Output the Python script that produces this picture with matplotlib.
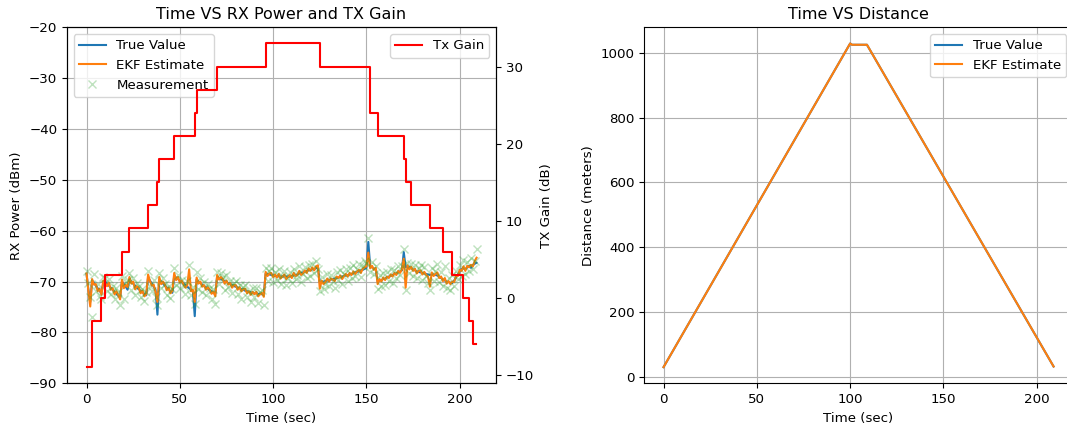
import numpy as np
import matplotlib
matplotlib.use("Agg")
import matplotlib.pyplot as plt

# ---------------- data ----------------
time_sec = list(range(210))

rx_true = [
    -68.5, -71.5, -74.0, -69.8, -70.2, -70.8, -71.3, -71.8, -72.3, -70.2,
    -70.0, -70.4, -70.8, -71.2, -71.6, -72.0, -72.4, -72.8, -73.2, -70.0,
    -70.5, -71.0, -71.6, -69.6, -70.0, -70.4, -70.8, -71.2, -71.5, -71.8,
    -72.1, -72.4, -72.7, -69.2, -69.8, -70.4, -71.0, -71.6, -76.5, -69.6,
    -70.0, -70.4, -70.8, -71.2, -71.5, -71.9, -72.2, -68.9, -69.2, -69.5,
    -69.8, -70.1, -70.4, -70.7, -71.0, -71.3, -71.6, -71.9, -76.8, -69.6,
    -70.0, -70.3, -70.6, -70.9, -71.1, -71.4, -71.7, -71.9, -72.2, -72.5,
    -69.0, -69.3, -69.5, -69.7, -69.9, -70.1, -70.3, -70.5, -70.7, -70.9,
    -71.0, -71.2, -71.3, -71.5, -71.6, -71.8, -71.9, -72.0, -72.1, -72.2,
    -72.3, -72.3, -72.4, -72.4, -72.5, -72.5, -68.4, -68.5, -68.6, -68.7,
    -68.8, -68.9, -68.9, -69.0, -69.0, -69.0, -69.0, -69.0, -69.0, -69.0,
    -68.9, -68.8, -68.7, -68.6, -68.4, -68.3, -68.2, -68.0, -67.9, -67.8,
    -67.7, -67.6, -67.5, -67.4, -67.2, -70.2, -70.1, -70.0, -69.9, -69.8,
    -69.7, -69.6, -69.5, -69.4, -69.3, -69.2, -69.1, -69.0, -68.9, -68.8,
    -68.7, -68.6, -68.5, -68.4, -68.2, -68.1, -68.0, -67.8, -67.7, -67.5,
    -67.3, -62.2, -67.0, -67.2, -67.4, -67.6, -70.0, -69.8, -69.7, -69.5,
    -69.4, -69.2, -69.0, -68.9, -68.7, -68.5, -68.4, -68.2, -68.0, -67.8,
    -64.2, -67.2, -67.0, -67.2, -67.4, -67.6, -67.8, -68.0, -68.1, -68.2,
    -68.3, -68.4, -68.5, -68.6, -68.7, -68.6, -68.6, -68.7, -68.8, -69.0,
    -69.3, -69.6, -69.8, -70.0, -70.1, -70.2, -70.3, -69.8, -69.2, -68.6,
    -68.0, -67.5, -67.4, -67.6, -67.2, -66.9, -67.3, -66.8, -66.5, -66.3,
]

rx_ekf = [
    -68.4, -71.8, -74.9, -69.5, -70.6, -70.5, -71.9, -71.4, -72.6, -69.8,
    -70.3, -70.9, -70.2, -71.6, -71.3, -72.5, -71.9, -72.6, -73.5, -69.6,
    -71.3, -70.6, -71.1, -69.1, -70.4, -70.0, -71.5, -70.9, -71.2, -72.3,
    -71.8, -72.9, -72.5, -68.6, -69.9, -70.8, -70.6, -72.1, -74.0, -69.1,
    -70.5, -70.0, -70.6, -71.7, -71.2, -72.3, -71.8, -68.3, -69.7, -69.1,
    -70.2, -69.8, -70.6, -71.2, -70.7, -67.6, -71.9, -71.6, -74.0, -69.2,
    -70.4, -70.0, -71.0, -70.7, -71.6, -71.1, -71.6, -72.4, -72.0, -72.9,
    -68.7, -69.6, -69.1, -69.5, -70.4, -69.8, -70.6, -70.3, -71.2, -70.7,
    -70.7, -71.6, -71.1, -71.9, -71.5, -71.4, -72.3, -71.9, -72.6, -72.0,
    -72.5, -72.0, -72.9, -72.5, -72.2, -73.0, -68.1, -68.9, -68.4, -68.3,
    -69.1, -68.6, -69.2, -68.5, -69.4, -69.0, -68.6, -69.5, -69.1, -68.7,
    -69.3, -68.3, -68.9, -68.7, -67.9, -68.7, -68.4, -67.8, -68.3, -67.4,
    -67.9, -67.2, -67.8, -67.0, -66.8, -71.4, -69.8, -70.5, -70.1, -69.4,
    -70.0, -69.4, -69.6, -69.9, -69.0, -69.3, -68.8, -69.5, -68.9, -68.5,
    -69.0, -68.3, -68.7, -68.0, -68.5, -68.0, -67.7, -68.3, -67.5, -67.2,
    -67.0, -64.3, -67.4, -66.9, -67.7, -67.3, -70.5, -69.5, -70.0, -69.2,
    -69.7, -69.0, -69.3, -68.6, -69.0, -68.3, -68.7, -67.9, -68.3, -67.6,
    -65.5, -71.2, -66.8, -67.6, -67.1, -67.9, -67.5, -68.4, -67.9, -67.8,
    -68.6, -68.1, -68.7, -69.0, -71.0, -68.2, -68.9, -68.5, -68.2, -69.3,
    -69.0, -69.9, -69.3, -70.4, -69.9, -70.5, -70.0, -70.1, -68.9, -68.9,
    -67.7, -67.9, -67.0, -67.9, -66.9, -67.2, -66.7, -67.0, -66.0, -65.3,
]

rx_meas = [
    -67.9, -70.2, -73.1, -77.0, -68.6, -71.9, -70.4, -72.9, -73.4, -69.1,
    -69.2, -71.8, -69.5, -72.5, -70.9, -73.4, -71.2, -72.0, -74.6, -68.9,
    -73.5, -70.1, -69.6, -68.4, -71.7, -69.2, -72.6, -70.3, -70.8, -73.1,
    -71.4, -73.8, -72.0, -67.9, -70.9, -71.8, -69.7, -73.0, -74.6, -68.3,
    -71.2, -69.3, -70.4, -72.6, -70.8, -73.2, -71.5, -67.4, -70.6, -68.7,
    -71.3, -69.6, -70.9, -72.4, -69.8, -66.8, -72.7, -71.0, -74.4, -68.2,
    -71.4, -69.2, -72.1, -70.0, -72.6, -70.5, -71.2, -73.5, -71.4, -74.4,
    -68.1, -70.4, -68.3, -69.0, -71.6, -68.8, -71.1, -69.9, -72.3, -70.2,
    -69.8, -72.5, -70.6, -73.4, -71.0, -70.7, -73.1, -71.8, -74.0, -71.3,
    -73.0, -71.2, -74.3, -72.1, -71.6, -74.6, -67.3, -69.9, -68.0, -67.4,
    -70.1, -68.2, -69.7, -67.6, -70.4, -68.9, -67.9, -70.6, -69.3, -68.1,
    -70.2, -67.5, -69.4, -68.8, -66.9, -70.1, -68.6, -67.2, -69.3, -66.8,
    -68.9, -66.6, -68.3, -65.9, -67.6, -71.9, -69.0, -71.4, -70.5, -68.6,
    -70.9, -68.7, -69.8, -71.2, -68.1, -69.6, -67.8, -70.4, -68.5, -67.6,
    -69.9, -67.4, -69.2, -66.8, -68.9, -67.5, -66.6, -69.1, -67.0, -65.9,
    -66.4, -61.5, -68.2, -66.1, -68.6, -66.9, -71.5, -68.7, -70.8, -68.4,
    -70.6, -68.1, -69.8, -67.6, -70.2, -67.7, -69.3, -66.9, -68.8, -67.0,
    -63.6, -71.6, -66.3, -68.4, -66.5, -68.9, -66.8, -69.2, -67.4, -66.7,
    -69.6, -67.2, -68.9, -70.3, -71.7, -67.4, -69.8, -68.0, -66.6, -70.1,
    -68.2, -70.8, -66.9, -71.3, -69.2, -71.6, -68.7, -70.9, -67.9, -69.5,
    -66.7, -68.9, -65.8, -68.6, -66.2, -67.9, -65.4, -67.5, -65.9, -63.5,
]

gain_time = [0, 3, 8, 10, 19, 23, 33, 38, 39, 47, 58, 59, 70, 96, 125,
             152, 156, 170, 171, 174, 184, 191, 196, 202, 205, 207, 208.5]
gain_db = [-9, -3, 0, 3, 6, 9, 12, 15, 18, 21, 24, 27, 30, 33, 30,
           24, 21, 18, 15, 12, 9, 6, 3, 0, -3, -6, -6]

dist_time = [0, 100, 101, 109, 209]
dist_true = [30, 1029, 1025, 1025, 32]
dist_ekf = [30, 1029, 1025, 1025, 32]

# ---------------- figure ----------------
plt.rcParams['font.size'] = 9.6

fig = plt.figure(figsize=(10.67, 4.25), dpi=100)
ax1 = fig.add_axes([0.0628, 0.0981, 0.4021, 0.8377])
ax3 = fig.add_axes([0.6036, 0.0981, 0.4021, 0.8377])

ax1.plot(time_sec, rx_true, color='#1f77b4', label='True Value')
ax1.plot(time_sec, rx_ekf, color='#ff7f0e', label='EKF Estimate')
ax1.plot(time_sec, rx_meas, 'x', color='#2ca02c', alpha=0.3, label='Measurement')
ax1.set_ylim(-90, -20)
ax1.set_xlabel('Time (sec)')
ax1.set_ylabel('RX Power (dBm)')
ax1.set_title('Time VS RX Power and TX Gain')
ax1.grid(True)
ax1.legend(loc='upper left')

ax2 = ax1.twinx()
ax2.step(gain_time, gain_db, where='post', color='r', label='Tx Gain')
ax2.set_ylabel('TX Gain (dB)')
ax2.legend(loc='upper right')

ax3.plot(dist_time, dist_true, color='#1f77b4', label='True Value')
ax3.plot(dist_time, dist_ekf, color='#ff7f0e', label='EKF Estimate')
ax3.set_xlabel('Time (sec)')
ax3.set_ylabel('Distance (meters)')
ax3.set_title('Time VS Distance')
ax3.grid(True)
ax3.legend(loc='upper right')

fig.savefig('out.png', dpi=100)
